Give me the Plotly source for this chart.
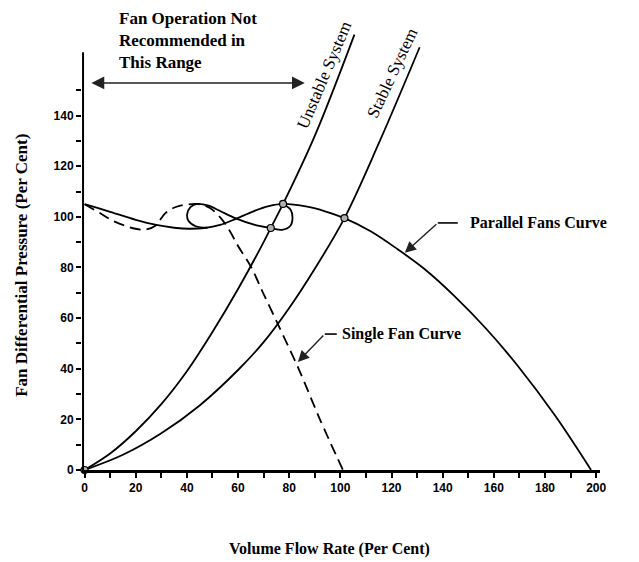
import plotly.graph_objects as go

# ---------------- data ----------------
# Parallel fans curve (solid)
par_x = [0, 10, 20, 28, 35, 41, 47, 53, 59.1, 66, 72, 77.6, 87, 94, 101.6, 112, 122.4, 133, 144.6, 157, 169.4, 184, 198]
par_y = [105, 102, 98.8, 96.8, 95.7, 95.3, 95.6, 96.8, 99.2, 102.2, 104.2, 105.1, 104, 102.2, 99.5, 94.2, 87.2, 79.3, 68.7, 55.8, 41.1, 21.4, 0]

# Loop branch of the parallel characteristic (solid)
loop_x = [48, 43.5, 40.6, 40.1, 41.4, 44, 48.5, 53, 59.1, 66.9, 72.8, 77.2, 80.4, 81.3, 80.5, 77.6]
loop_y = [95.7, 96.3, 98.5, 101, 103.8, 105.1, 104.4, 102.3, 99.4, 96.7, 95.6, 94.9, 96.4, 99.6, 102.9, 105.1]

# Single fan curve (dashed)
single_x = [0, 6, 12, 19.9, 24, 27.7, 31.6, 36, 44, 49, 53.2, 56.5, 60, 65, 70, 75.4, 83.9, 92, 101]
single_y = [105, 101.5, 98, 95.3, 95, 96.5, 101.5, 104, 105.1, 103.5, 99.6, 94.9, 88.5, 80.4, 69.5, 58, 39.5, 20, 0]

# Unstable system curve
unst_x = [0, 10, 20, 30, 40, 50, 60, 70, 72.8, 77.6, 90, 105.5]
unst_y = [0, 6.5, 15.3, 26, 39, 54.5, 71.5, 90, 95.6, 105.1, 132, 172]

# Stable system curve
stab_x = [0, 15, 30, 45, 60, 70, 80, 90, 101.6, 115, 131]
stab_y = [0, 6, 14.5, 25.5, 39.5, 50.5, 64, 79.5, 99.5, 129, 167]

# Operating points
op_x = [0, 72.8, 77.6, 101.6]
op_y = [0, 95.6, 105.1, 99.5]

x_ticks = [0, 20, 40, 60, 80, 100, 120, 140, 160, 180, 200]
y_ticks = [0, 20, 40, 60, 80, 100, 120, 140]
y_minor = [10, 30, 50, 70, 90, 110, 130, 150]

SERIF = "Liberation Serif"
SANS = "Liberation Sans"

fig = go.Figure()

line_style = dict(color="black", width=1.8, shape="spline", smoothing=1.0)

fig.add_trace(go.Scatter(x=stab_x, y=stab_y, mode="lines", line=line_style, hoverinfo="skip"))
fig.add_trace(go.Scatter(x=unst_x, y=unst_y, mode="lines", line=line_style, hoverinfo="skip"))
fig.add_trace(go.Scatter(x=single_x, y=single_y, mode="lines",
                         line=dict(color="black", width=1.8, dash="11px,6px", shape="spline", smoothing=0.9),
                         hoverinfo="skip"))
fig.add_trace(go.Scatter(x=par_x, y=par_y, mode="lines", line=line_style, hoverinfo="skip"))
fig.add_trace(go.Scatter(x=loop_x, y=loop_y, mode="lines",
                         line=dict(color="black", width=1.8, shape="spline", smoothing=0.9),
                         hoverinfo="skip"))
fig.add_trace(go.Scatter(x=op_x, y=op_y, mode="markers", cliponaxis=False,
                         marker=dict(symbol="circle", size=7, color="#b0b0b0",
                                     line=dict(color="black", width=1.2)),
                         hoverinfo="skip"))

annotations = [
    dict(text="<b>Fan Operation Not<br>Recommended in<br>This Range</b>",
         x=12.7, y=169.5, xref="x", yref="y", xanchor="left", yanchor="middle",
         align="left", showarrow=False, font=dict(family=SERIF, size=17, color="black")),
    # double arrow
    dict(text="", x=86.1, y=152.9, ax=2.1, ay=152.9, xref="x", yref="y", axref="x", ayref="y",
         showarrow=True, arrowhead=2, startarrowhead=2, arrowside="end+start",
         arrowsize=1.6, startarrowsize=1.6, arrowwidth=1.6, arrowcolor="#222"),
    dict(text="Unstable System", x=93.9, y=156.1, xref="x", yref="y", textangle=-67,
         showarrow=False, font=dict(family=SERIF, size=17, color="black")),
    dict(text="Stable System", x=120.5, y=156.9, xref="x", yref="y", textangle=-65,
         showarrow=False, font=dict(family=SERIF, size=17, color="black")),
    dict(text="<b>Parallel Fans Curve</b>", x=149.8, y=97.6, xref="x", yref="y",
         xanchor="left", yanchor="middle", showarrow=False,
         font=dict(family=SERIF, size=16, color="black")),
    dict(text="", x=125.2, y=85.8, ax=138.1, ay=97.6, xref="x", yref="y", axref="x", ayref="y",
         showarrow=True, arrowhead=2, arrowsize=1.6, arrowwidth=1.4, arrowcolor="#222"),
    dict(text="<b>Single Fan Curve</b>", x=99.8, y=53.7, xref="x", yref="y",
         xanchor="left", yanchor="middle", showarrow=False,
         font=dict(family=SERIF, size=16, color="black")),
    dict(text="", x=83.4, y=42.7, ax=93.9, ay=53.7, xref="x", yref="y", axref="x", ayref="y",
         showarrow=True, arrowhead=2, arrowsize=1.6, arrowwidth=1.4, arrowcolor="#222"),
    # axis titles
    dict(text="<b>Volume Flow Rate (Per Cent)</b>", x=0.478, y=-0.178, xref="paper", yref="paper",
         xanchor="center", yanchor="middle", showarrow=False,
         font=dict(family=SERIF, size=16, color="black")),
    dict(text="<b>Fan Differential Pressure (Per Cent)</b>", x=-0.116, y=0.463,
         xref="paper", yref="paper", textangle=-90, xanchor="center", yanchor="middle",
         showarrow=False, font=dict(family=SERIF, size=17, color="black")),
]

shapes = [
    # y axis line (stops short of the top)
    dict(type="line", xref="paper", yref="y", x0=0.002, x1=0.002, y0=0, y1=165,
         line=dict(color="black", width=2)),
    # short horizontal leaders of the callouts
    dict(type="line", xref="x", yref="y", x0=138.1, x1=145.9, y0=97.6, y1=97.6,
         line=dict(color="black", width=1.6)),
    dict(type="line", xref="x", yref="y", x0=93.9, x1=98.6, y0=53.7, y1=53.7,
         line=dict(color="black", width=1.6)),
]

fig.update_layout(
    width=631, height=554,
    margin=dict(l=74, r=39, t=19, b=92),
    paper_bgcolor="white", plot_bgcolor="white",
    showlegend=False,
    annotations=annotations,
    shapes=shapes,
    xaxis=dict(range=[-1, 201.5], tickvals=x_ticks, ticktext=[str(v) for v in x_ticks],
               showgrid=False, zeroline=False, showline=True, linecolor="black", linewidth=2.5,
               ticks="outside", ticklen=5, tickwidth=1.5, tickcolor="black",
               minor=dict(dtick=10, tick0=0, ticks="outside", ticklen=5, tickwidth=1.5, tickcolor="black"),
               tickfont=dict(family=SANS, size=12, color="black", weight="bold")),
    yaxis=dict(range=[0, 175], tickvals=y_ticks, ticktext=[str(v) for v in y_ticks],
               showgrid=False, zeroline=False, showline=False,
               ticks="outside", ticklen=5, tickwidth=1.5, tickcolor="black",
               minor=dict(tickvals=y_minor, ticks="outside", ticklen=5, tickwidth=1.5, tickcolor="black"),
               tickfont=dict(family=SANS, size=12, color="black", weight="bold")),
)

fig.write_html("out.html")
